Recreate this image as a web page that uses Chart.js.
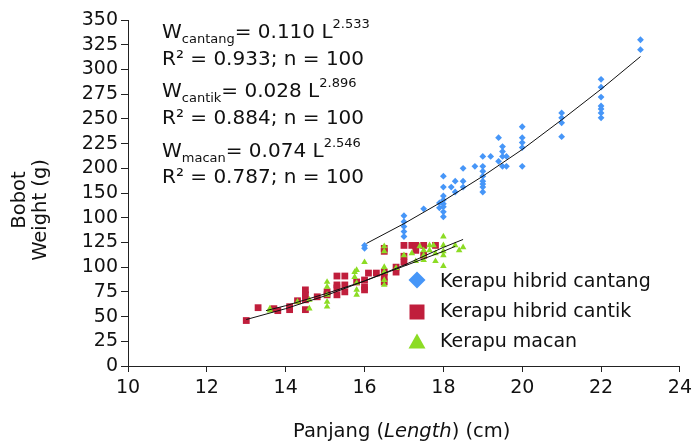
<!DOCTYPE html>
<html><head><meta charset="utf-8">
<script src="https://cdn.jsdelivr.net/npm/chart.js@4/dist/chart.umd.min.js"></script>
<style>html,body{margin:0;padding:0;background:#fff;} #c{display:block}</style>
</head><body>
<canvas id="c" width="697" height="444"></canvas>
<script>
// ---- tick labels (as printed in the reference) ----
const xTicks = [10, 12, 14, 16, 18, 20, 22, 24];
const yTickLabels = ['0','25','50','75','100','125','100','150','200','225','250','275','300','325','350'];

// ---- Kerapu hibrid cantang ----
const cantangL = [16.0,16.0, 17.0,17.0,17.0,17.0,17.0, 17.5, 17.9,17.9,
  18.0,18.0,18.0,18.0,18.0,18.0,18.0,18.0, 18.2, 18.3,18.3, 18.5,18.5,18.5, 18.8,
  19.0,19.0,19.0,19.0,19.0,19.0,19.0,19.0, 19.2, 19.4,19.4, 19.5,19.5,19.5,19.5, 19.6,19.6,
  20.0,20.0,20.0,20.0,20.0, 21.0,21.0,21.0,21.0, 22.0,22.0,22.0,22.0,22.0,22.0,22.0, 23.0,23.0];
const cantangW = [122,119, 152,146,141,136,131, 159, 165,160,
  192,181,172,168,164,161,156,151, 181, 187,176, 200,187,181, 202,
  212,202,197,192,187,184,181,176, 212, 231,207, 222,217,212,202, 212,202,
  242,231,226,221,202, 256,251,246,232, 290,282,272,263,260,256,251, 330,320];

// ---- Kerapu hibrid cantik ----
const cantikL = [13.0, 13.3, 13.7,13.8, 14.1,14.1, 14.3, 14.5,14.5,14.5,14.5, 14.8, 15.05,15.05,
  15.3,15.3,15.3,15.3, 15.5,15.5,15.5, 15.8, 16.0,16.0,16.0, 16.1, 16.3,
  16.5,16.5,16.5,16.5,16.5, 16.8,16.8, 17.0,17.0,17.0, 17.2, 17.3,17.3, 17.5,17.5, 17.8];
const cantikW = [46, 59, 58,56, 57,60, 66, 77,72,67,57, 70, 75,72,
  82,79,72,91, 82,75,91, 85, 87,80,77, 94, 94,
  95,90,85,119,116, 100,95, 111,122,105, 122, 122,117, 122,112, 122];

// ---- Kerapu macan ----
const macanL = [13.6,13.6, 14.3, 14.6,14.6, 15.05,15.05,15.05,15.05,15.05, 15.75,15.75,
  15.8,15.8,15.8,15.8, 16.0, 16.5,16.5,16.5,16.5,16.5,16.5, 16.8, 17.0, 17.2, 17.3, 17.4,
  17.5,17.5,17.5, 17.65,17.65, 17.75, 17.8,17.8, 18.0,18.0,18.0,18.0,18.0, 18.3, 18.4, 18.5];
const macanW = [58,56, 65, 58,67, 85,80,72,65,60, 95,90,
  84,77,72,97, 105, 121,116,100,95,87,82, 99, 112, 114, 106, 121,
  117,112,107, 122,117, 122, 114,106, 131,122,116,112,101, 122, 117, 120];

// ---- fitted curves ----
const cantangFitL = [16.05, 17, 18, 19, 20, 21, 22, 23];
const cantangFitW = [124, 144, 167, 192, 219, 249, 280, 313];
const cantikFitL = [13, 14, 15, 16, 17, 18, 18.5];
const cantikFitW = [47, 58, 71, 86, 102, 120, 128];
const macanFitL = [13.5, 14, 15, 16, 17, 18, 18.3];
const macanFitW = [56, 61, 73, 86, 101, 116, 121];

const seriesNames = ['Kerapu hibrid cantang', 'Kerapu hibrid cantik', 'Kerapu macan'];
const BLUE = '#4696f8', RED = '#c01e3c', GREEN = '#8cdc24';
const FONT = "'DejaVu Sans', Verdana, sans-serif";

const pts = (xs, ys) => xs.map((x, i) => ({x: x, y: ys[i]}));
const fit = (xs, ys) => ({data: pts(xs, ys), showLine: true, borderColor: '#111', borderWidth: 1,
  pointRadius: 0, fill: false, order: 0});

function marker(ctx, style, x, y, r) {
  ctx.beginPath();
  if (style === 'diamond') {
    ctx.moveTo(x, y - r); ctx.lineTo(x + r, y); ctx.lineTo(x, y + r); ctx.lineTo(x - r, y);
  } else if (style === 'square') {
    ctx.rect(x - r, y - r, 2 * r, 2 * r);
  } else {
    ctx.moveTo(x, y - r); ctx.lineTo(x + r * 1.0, y + r * 0.75); ctx.lineTo(x - r * 1.0, y + r * 0.75);
  }
  ctx.closePath(); ctx.fill();
}

function drawParts(ctx, x, base, parts) {
  for (const p of parts) {
    ctx.font = (p.i ? 'italic ' : '') + p.f + 'px ' + FONT;
    ctx.fillText(p.t, x, base + (p.dy || 0));
    x += ctx.measureText(p.t).width;
  }
}

const overlay = {
  id: 'overlay',
  afterDraw(chart) {
    const ctx = chart.ctx;
    ctx.save();
    ctx.fillStyle = '#111';
    ctx.textBaseline = 'alphabetic';
    ctx.textAlign = 'left';
    // equations
    const eqX = 162;
    const eqs = [
      [['W', 'cantang', '= 0.110 L', '2.533'], 38, 'R\u00B2 = 0.933; n = 100', 65],
      [['W', 'cantik', '= 0.028 L', '2.896'], 97, 'R\u00B2 = 0.884; n = 100', 124],
      [['W', 'macan', '= 0.074 L', '2.546'], 157, 'R\u00B2 = 0.787; n = 100', 183]
    ];
    for (const e of eqs) {
      drawParts(ctx, eqX, e[1], [
        {t: e[0][0], f: 20}, {t: e[0][1], f: 13, dy: 5}, {t: e[0][2], f: 20}, {t: e[0][3], f: 13, dy: -10}
      ]);
      drawParts(ctx, eqX, e[3], [{t: e[2], f: 20}]);
    }
    // legend
    const lg = [[BLUE, 'diamond', 280, 287, 8.5], [RED, 'square', 312, 317, 7.5], [GREEN, 'tri', 342, 347, 8.5]];
    lg.forEach((l, i) => {
      ctx.fillStyle = l[0];
      marker(ctx, l[1], 417, l[2], l[4]);
      ctx.fillStyle = '#111';
      ctx.font = '19px ' + FONT;
      ctx.fillText(seriesNames[i], 440, l[3]);
    });
    // x title
    drawParts(ctx, 293, 437, [{t: 'Panjang (', f: 19.5}, {t: 'Length', f: 19.5, i: true}, {t: ') (cm)', f: 19.5}]);
    // y title
    ctx.font = '19.5px ' + FONT;
    ctx.textAlign = 'center';
    ctx.save(); ctx.translate(25, 200); ctx.rotate(-Math.PI / 2); ctx.fillText('Bobot', 0, 0); ctx.restore();
    ctx.save(); ctx.translate(46, 210); ctx.rotate(-Math.PI / 2); ctx.fillText('Weight (g)', 0, 0); ctx.restore();
    ctx.restore();
  }
};

new Chart(document.getElementById('c').getContext('2d'), {
  type: 'scatter',
  data: {
    datasets: [
      fit(cantangFitL, cantangFitW),
      fit(cantikFitL, cantikFitW),
      fit(macanFitL, macanFitW),
      {label: seriesNames[2], data: pts(macanL, macanW), pointStyle: 'triangle', pointRadius: 3.8,
        backgroundColor: GREEN, borderColor: GREEN, borderWidth: 0, order: 1},
      {label: seriesNames[1], data: pts(cantikL, cantikW), pointStyle: 'rect', pointRadius: 4.8,
        backgroundColor: RED, borderColor: RED, borderWidth: 0, order: 2},
      {label: seriesNames[0], data: pts(cantangL, cantangW), pointStyle: 'rectRot', pointRadius: 3.4,
        backgroundColor: BLUE, borderColor: BLUE, borderWidth: 0, order: 3}
    ]
  },
  options: {
    responsive: false, animation: false, devicePixelRatio: 1,
    layout: {padding: {left: 0, right: 14, top: 20, bottom: 0}},
    plugins: {legend: {display: false}, tooltip: {enabled: false}},
    scales: {
      x: {
        type: 'linear', min: 10, max: 24,
        afterBuildTicks: s => { s.ticks = xTicks.map(v => ({value: v})); },
        afterFit: s => { s.height = 78; },
        border: {color: '#222', width: 1},
        grid: {drawOnChartArea: false, tickLength: 6, color: '#222'},
        ticks: {font: {family: FONT, size: 19}, color: '#111', padding: 5, maxRotation: 0, autoSkip: false}
      },
      y: {
        type: 'linear', min: 0, max: 350,
        afterFit: s => { s.width = 128; },
        border: {color: '#222', width: 1},
        grid: {drawOnChartArea: false, tickLength: 7, color: '#222'},
        ticks: {stepSize: 25, autoSkip: false, callback: v => yTickLabels[Math.round(v / 25)],
          font: {family: FONT, size: 19}, color: '#111', padding: 3}
      }
    }
  },
  plugins: [overlay]
});
</script>
</body></html>
